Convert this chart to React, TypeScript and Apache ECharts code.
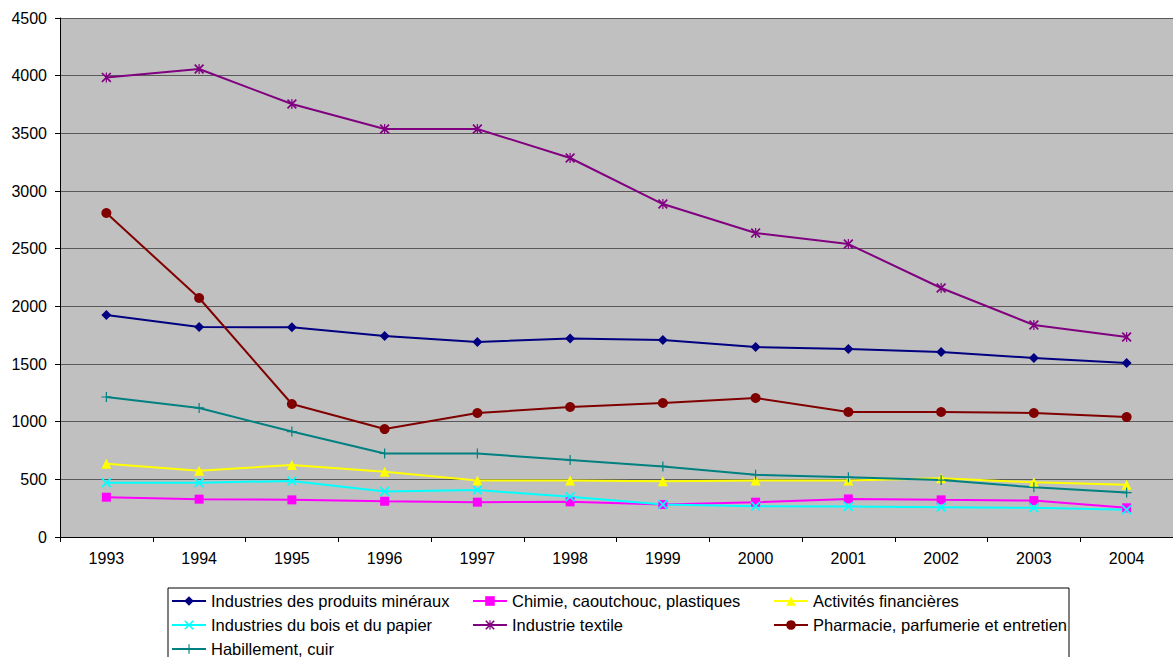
import React, { useEffect, useRef } from "react";
import * as echarts from "echarts";

const years = ["1993", "1994", "1995", "1996", "1997", "1998", "1999", "2000", "2001", "2002", "2003", "2004"];
const yTicks = { min: 0, max: 4500, interval: 500 };

const mineraux = [1925, 1821, 1818, 1743, 1691, 1722, 1708, 1647, 1630, 1604, 1552, 1509];
const chimie = [345, 328, 322, 310, 302, 305, 282, 302, 330, 322, 316, 253];
const financieres = [635, 575, 624, 566, 489, 489, 483, 489, 489, 509, 474, 454];
const bois = [471, 471, 486, 394, 408, 348, 282, 267, 264, 259, 253, 236];
const textile = [3985, 4058, 3754, 3538, 3538, 3286, 2887, 2636, 2540, 2159, 1838, 1734];
const pharmacie = [2809, 2072, 1153, 936, 1075, 1127, 1162, 1205, 1084, 1084, 1075, 1040];
const habillement = [1214, 1119, 914, 724, 724, 667, 612, 540, 517, 494, 431, 385];

const names = [
  "Industries des produits minéraux",
  "Chimie, caoutchouc, plastiques",
  "Activités financières",
  "Industries du bois et du papier",
  "Industrie textile",
  "Pharmacie, parfumerie et entretien",
  "Habillement, cuir",
];

const X_PATH = "path://M0,1.2 L1.2,0 L10,8.8 L8.8,10 Z M8.8,0 L10,1.2 L1.2,10 L0,8.8 Z";
const PLUS_PATH = "path://M4.4,0 H5.6 V4.4 H10 V5.6 H5.6 V10 H4.4 V5.6 H0 V4.4 H4.4 Z";
const STAR_PATH = "path://M0,1.2 L1.2,0 L10,8.8 L8.8,10 Z M8.8,0 L10,1.2 L1.2,10 L0,8.8 Z M4.4,0 H5.6 V10 H4.4 Z";

const FONT = "'Liberation Sans', Arial, sans-serif";

export default function App() {
  const ref = useRef<HTMLDivElement>(null);
  useEffect(() => {
    if (!ref.current) return;
    const chart = echarts.init(ref.current, null, { renderer: "svg" });
    const mk = (name: string, data: number[], color: string, symbol: string, size: number) => ({
      name,
      type: "line",
      data,
      color,
      symbol,
      symbolSize: size,
      lineStyle: { color, width: 2 },
      itemStyle: { color },
      showSymbol: true,
    });
    const legendCommon = {
      orient: "vertical",
      padding: 0,
      itemWidth: 34,
      itemHeight: 12,
      itemGap: 6,
      textStyle: { fontFamily: FONT, fontSize: 16.5, color: "#000", lineHeight: 18 },
      selectedMode: false,
    };
    chart.setOption({
      animation: false,
      backgroundColor: "#fff",
      grid: {
        left: 60,
        top: 18,
        width: 1117,
        height: 519,
        show: true,
        backgroundColor: "#C0C0C0",
        borderWidth: 0,
      },
      xAxis: {
        type: "category",
        data: years,
        boundaryGap: true,
        axisLine: { lineStyle: { color: "#000", width: 1 } },
        axisTick: { show: true, length: 5, lineStyle: { color: "#000" } },
        axisLabel: { color: "#000", fontSize: 16, fontFamily: FONT, margin: 13 },
      },
      yAxis: {
        type: "value",
        min: yTicks.min,
        max: yTicks.max,
        interval: yTicks.interval,
        axisLine: { show: true, lineStyle: { color: "#000", width: 1 } },
        axisTick: { show: true, length: 5, lineStyle: { color: "#000" } },
        axisLabel: {
          color: "#000",
          fontSize: 16,
          fontFamily: FONT,
          margin: 13,
          formatter: (v: number) => String(v),
        },
        splitLine: { show: true, lineStyle: { color: "#5a5a5a", width: 1 } },
      },
      legend: [
        { ...legendCommon, left: 171, top: 592, data: [names[0], names[3]] },
        { ...legendCommon, left: 171, top: 640, data: [names[6]] },
        { ...legendCommon, left: 472, top: 592, data: [names[1], names[4]] },
        { ...legendCommon, left: 773, top: 592, data: [names[2], names[5]] },
      ],
      graphic: [
        {
          type: "rect",
          shape: { x: 168, y: 588, width: 901, height: 80 },
          style: { fill: "none", stroke: "#000", lineWidth: 1 },
          z: 0,
        },
      ],
      series: [
        mk(names[0], mineraux, "#000080", "diamond", 10),
        mk(names[1], chimie, "#FF00FF", "rect", 9),
        mk(names[2], financieres, "#FFFF00", "triangle", 10),
        mk(names[3], bois, "#00FFFF", X_PATH, 10),
        mk(names[4], textile, "#800080", STAR_PATH, 10),
        mk(names[5], pharmacie, "#800000", "circle", 10),
        mk(names[6], habillement, "#008080", PLUS_PATH, 10),
      ],
    });
    return () => chart.dispose();
  }, []);
  return (
    <div
      ref={ref}
      style={{ position: "fixed", left: 0, top: 0, width: 1173, height: 657 }}
    />
  );
}
